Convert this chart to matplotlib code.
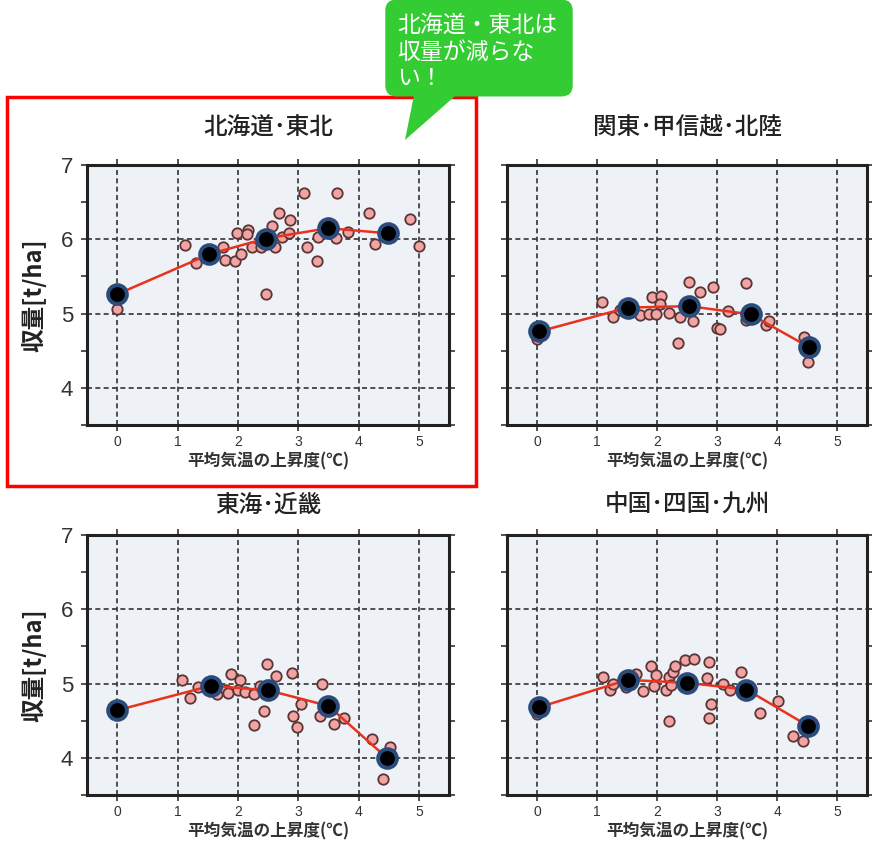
import matplotlib
matplotlib.use("Agg")
import matplotlib.pyplot as plt
from matplotlib.patches import FancyBboxPatch, Polygon, Rectangle
from matplotlib.ticker import MultipleLocator

plt.rcParams["font.family"] = ["Noto Sans CJK JP", "DejaVu Sans"]

# ---------- DATA ----------

titles = ["北海道･東北", "関東･甲信越･北陸", "東海･近畿", "中国･四国･九州"]
x_label = "平均気温の上昇度(℃)"
y_label = "収量[t/ha]"
callout_text = "北海道・東北は\n収量が減らな\nい！"

x_ticks = [0, 1, 2, 3, 4, 5]
y_ticks = [4, 5, 6, 7]

mean_x_tohoku = [0.0, 1.53, 2.46, 3.50, 4.49]
mean_y_tohoku = [5.26, 5.80, 6.01, 6.15, 6.08]
pts_x_tohoku = [0.0, 1.12, 1.31, 1.75, 1.78, 1.96, 2.06, 1.99, 2.17, 2.15, 2.23,
                2.39, 2.61, 2.57, 2.68, 2.74, 2.86, 2.85, 2.46, 3.09, 3.15, 3.31,
                3.33, 3.64, 3.62, 3.83, 4.18, 4.27, 4.86, 5.00]
pts_y_tohoku = [5.06, 5.92, 5.68, 5.90, 5.72, 5.71, 5.80, 6.09, 6.13, 6.07, 5.90,
                5.90, 5.89, 6.18, 6.36, 6.03, 6.26, 6.08, 5.26, 6.62, 5.90, 5.71,
                6.03, 6.62, 6.02, 6.10, 6.35, 5.93, 6.27, 5.91]

mean_x_kanto = [0.04, 1.51, 2.53, 3.56, 4.53]
mean_y_kanto = [4.76, 5.08, 5.10, 4.99, 4.55]
pts_x_kanto = [0.0, 1.09, 1.26, 1.38, 1.71, 1.87, 1.91, 2.06, 2.05, 1.99, 2.20,
               2.38, 2.35, 2.53, 2.60, 2.71, 2.93, 3.00, 3.05, 3.18, 3.48, 3.48,
               3.81, 3.87, 4.45, 4.61, 4.52]
pts_y_kanto = [4.66, 5.15, 4.95, 5.05, 4.98, 4.99, 5.22, 5.24, 5.13, 5.00, 5.01,
               4.95, 4.60, 5.42, 4.90, 5.29, 5.36, 4.80, 4.79, 5.03, 5.41, 4.91,
               4.84, 4.90, 4.69, 4.57, 4.35]

mean_x_tokai = [0.0, 1.55, 2.50, 3.50, 4.47]
mean_y_tokai = [4.64, 4.97, 4.91, 4.70, 4.00]
pts_x_tokai = [1.08, 1.20, 1.34, 1.66, 1.80, 1.84, 1.89, 2.03, 2.01, 2.12, 2.27,
               2.36, 2.27, 2.43, 2.49, 2.63, 2.90, 2.92, 2.98, 3.05, 3.39, 3.36,
               3.60, 3.76, 4.22, 4.52, 4.41]
pts_y_tokai = [5.05, 4.81, 4.96, 4.86, 4.92, 4.87, 5.13, 5.05, 4.92, 4.89, 4.86,
               4.97, 4.44, 4.63, 5.26, 5.10, 5.14, 4.56, 4.42, 4.73, 5.00, 4.57,
               4.45, 4.54, 4.26, 4.15, 3.72]

mean_x_kyushu = [0.03, 1.51, 2.50, 3.49, 4.52]
mean_y_kyushu = [4.68, 5.05, 5.01, 4.92, 4.43]
pts_x_kyushu = [0.0, 1.10, 1.22, 1.27, 1.49, 1.65, 1.76, 1.90, 1.99, 1.95, 2.15,
                2.20, 2.24, 2.26, 2.30, 2.46, 2.62, 2.20, 2.84, 2.87, 2.90, 2.87,
                3.10, 3.22, 3.40, 3.41, 3.71, 4.01, 4.27, 4.44]
pts_y_kyushu = [4.59, 5.09, 4.92, 5.00, 4.95, 5.13, 4.90, 5.24, 5.11, 4.97, 4.92,
                5.09, 4.98, 5.15, 5.23, 5.32, 5.33, 4.49, 5.07, 5.29, 4.72, 4.54,
                4.99, 4.91, 5.15, 4.87, 4.60, 4.76, 4.30, 4.23]

panels = [
    (mean_x_tohoku, mean_y_tohoku, pts_x_tohoku, pts_y_tohoku),
    (mean_x_kanto, mean_y_kanto, pts_x_kanto, pts_y_kanto),
    (mean_x_tokai, mean_y_tokai, pts_x_tokai, pts_y_tokai),
    (mean_x_kyushu, mean_y_kyushu, pts_x_kyushu, pts_y_kyushu),
]

# ---------- LAYOUT ----------

W, H = 872, 849
fig = plt.figure(figsize=(W / 100, H / 100), dpi=100)
fig.patch.set_facecolor("white")


def fx(px):
    return px / W


def fy(py):
    return 1 - py / H


# left, top, right, bottom in pixels
boxes = [(87, 165, 449, 425), (507, 165, 867, 425),
         (87, 535, 449, 795), (507, 535, 867, 795)]

for i, ((mx, my, px_, py_), title, box) in enumerate(zip(panels, titles, boxes)):
    l, t, r, b = box
    ax = fig.add_axes([fx(l), fy(b), fx(r) - fx(l), fy(t) - fy(b)])
    ax.set_facecolor("#eef1f5")
    ax.set_xlim(-0.5, 5.5)
    ax.set_ylim(3.5, 7)
    ax.set_xticks(x_ticks)
    ax.set_yticks(y_ticks)
    ax.yaxis.set_minor_locator(MultipleLocator(0.5))
    ax.grid(True, which="major", color="#333333", linestyle=(0, (3, 2)), linewidth=1.2)
    ax.set_axisbelow(True)
    for s in ax.spines.values():
        s.set_linewidth(2.2)
        s.set_color("#222222")
    ax.tick_params(which="both", direction="out", top=True, right=True,
                   length=4, width=1.2, color="#333333")
    ax.tick_params(axis="x", labelsize=10, labelcolor="#333333", pad=3)
    ax.tick_params(axis="y", labelsize=16, labelcolor="#333333", pad=6)
    for lab in ax.get_xticklabels() + ax.get_yticklabels():
        lab.set_family("Liberation Sans")

    ax.plot(px_, py_, "o", ms=7.5, mfc="#f2a3a3", mec="#5a3535", mew=1.3, zorder=3)
    ax.plot(mx, my, "-", color="#e8321e", lw=1.8, zorder=4)
    ax.plot(mx, my, "o", ms=13.5, mfc="black", mec="#2a4c7c", mew=2.8, zorder=5)

    ax.set_title(title, fontsize=17, fontweight="medium", color="#222222",
                 pad=22 if i < 2 else 17)
    ax.set_xlabel(x_label, fontsize=12, fontweight="bold", color="#333333", labelpad=3)
    if i % 2 == 0:
        ax.set_ylabel(y_label, fontsize=17, fontweight="bold", color="#222222", labelpad=10)
    else:
        ax.tick_params(axis="y", labelleft=False)

# red highlight frame
fig.patches.append(Rectangle((fx(7), fy(486)), fx(476) - fx(7), fy(97) - fy(486),
                             transform=fig.transFigure, fill=False,
                             edgecolor="#ff0000", linewidth=2.5))

# green speech bubble
green = "#33cc33"
fig.patches.append(Polygon([(fx(415), fy(90)), (fx(462), fy(90)), (fx(405), fy(140))],
                           closed=True, transform=fig.transFigure,
                           facecolor=green, edgecolor="none"))
fig.patches.append(FancyBboxPatch((fx(394), fy(88)), fx(564) - fx(394), fy(8) - fy(88),
                                  boxstyle="round,pad=0.01,rounding_size=0.013",
                                  transform=fig.transFigure,
                                  facecolor=green, edgecolor="none"))
fig.text(fx(397), fy(14), callout_text, color="white", fontsize=16.5,
         ha="left", va="top", linespacing=1.2)

fig.savefig("out.png", dpi=100)
